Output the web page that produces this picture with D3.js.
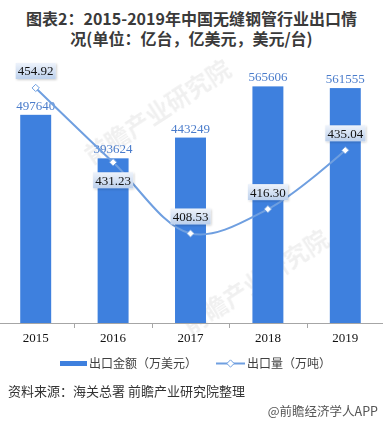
<!DOCTYPE html>
<html>
<head>
<meta charset="utf-8">
<script src="https://cdn.jsdelivr.net/npm/d3@7"></script>
<style>
  body { margin: 0; background: #fff; }
  svg { display: block; }
</style>
</head>
<body>
<script>
// chart values
const years = ["2015", "2016", "2017", "2018", "2019"];
const exportValue = [497640, 393624, 443249, 565606, 561555];   // 出口金额（万美元）
const exportVolume = [454.92, 431.23, 408.53, 416.30, 435.04];  // 出口量（万吨）
const volumeLabelSide = ["top", "bottom", "top", "top", "top"];

const W = 383, H = 425;
const svg = d3.select("body").append("svg").attr("width", W).attr("height", H);

const cjk = "'Noto Sans CJK SC', 'Noto Sans', sans-serif";
const serif = "'Liberation Serif', 'DejaVu Serif', serif";

// gradient + shadow for line labels
const defs = svg.append("defs");
const grad = defs.append("linearGradient").attr("id", "lblGrad")
    .attr("x1", 0).attr("y1", 0).attr("x2", 0).attr("y2", 1);
grad.append("stop").attr("offset", "0%").attr("stop-color", "#eef3fb");
grad.append("stop").attr("offset", "100%").attr("stop-color", "#bcd0ec");
const shadow = defs.append("filter").attr("id", "lblShadow")
    .attr("x", "-20%").attr("y", "-30%").attr("width", "140%").attr("height", "160%");
shadow.append("feDropShadow").attr("dx", 1).attr("dy", 1).attr("stdDeviation", 0.8)
    .attr("flood-color", "#000").attr("flood-opacity", 0.2);

// title
const titleLines = ["图表2：2015-2019年中国无缝钢管行业出口情", "况(单位：亿台，亿美元，美元/台)"];
svg.append("g").selectAll("text")
    .data(titleLines)
    .join("text")
    .attr("x", W / 2)
    .attr("y", (d, i) => 25 + i * 19.5)
    .attr("text-anchor", "middle")
    .attr("font-family", cjk)
    .attr("font-weight", "bold")
    .attr("font-size", 16)
    .attr("fill", "#3a3a3a")
    .text(d => d);

// watermark
const wm = svg.append("g").attr("fill", "#000").attr("opacity", 0.06)
    .attr("font-family", cjk).attr("font-weight", "bold");
wm.append("text").attr("transform", "translate(92,165) rotate(-33)")
    .attr("font-size", 24).text("前瞻产业研究院");
wm.append("text").attr("transform", "translate(190,335) rotate(-33)")
    .attr("font-size", 24).text("前瞻产业研究院");

const baseY = 323, topY = 72;

const x = d3.scaleBand().domain(years).range([-3, 384]).paddingInner(0);
const barW = x.bandwidth() * 0.4;
const cx = d => x(d) + x.bandwidth() / 2;

const yBar = d3.scaleLinear().domain([0, 600000]).range([baseY, topY]);
const yLine = d3.scaleLinear().domain([380, 460]).range([baseY, topY]);

// bars
svg.append("g").selectAll("rect")
    .data(years)
    .join("rect")
    .attr("x", (d) => cx(d) - barW / 2)
    .attr("y", (d, i) => yBar(exportValue[i]))
    .attr("width", barW)
    .attr("height", (d, i) => baseY - yBar(exportValue[i]))
    .attr("fill", "#3e80de");

// bar labels
svg.append("g").selectAll("text")
    .data(years)
    .join("text")
    .attr("x", (d) => cx(d))
    .attr("y", (d, i) => yBar(exportValue[i]) - 5)
    .attr("text-anchor", "middle")
    .attr("font-family", serif)
    .attr("font-size", 13)
    .attr("fill", "#4a7ccb")
    .text((d, i) => exportValue[i]);

// x axis
const axis = d3.axisBottom(x).tickSize(0).tickFormat(d => d);
const ax = svg.append("g").attr("transform", `translate(0,${baseY})`).call(axis);
ax.select(".domain").remove();
ax.append("line").attr("x1", 0).attr("x2", W).attr("y1", 0.5).attr("y2", 0.5)
    .attr("stroke", "#a6a6a6");
ax.selectAll(".sep").data(years.slice(1))
    .join("line")
    .attr("class", "sep")
    .attr("x1", d => Math.round(x(d)) + 0.5).attr("x2", d => Math.round(x(d)) + 0.5)
    .attr("y1", 0).attr("y2", 5)
    .attr("stroke", "#a6a6a6");
ax.selectAll(".tick text")
    .attr("dy", 0)
    .attr("y", 19)
    .attr("font-family", serif)
    .attr("font-size", 13)
    .attr("fill", "#111");

// line
const pts = years.map((d, i) => [cx(d), yLine(exportVolume[i])]);
svg.append("path")
    .attr("d", d3.line().curve(d3.curveCatmullRom.alpha(0.5))(pts))
    .attr("fill", "none")
    .attr("stroke", "#6f9fe0")
    .attr("stroke-width", 2);

const diamond = d3.symbol().type(d3.symbolDiamond2).size(34);
svg.append("g").selectAll("path")
    .data(pts)
    .join("path")
    .attr("transform", p => `translate(${p[0]},${p[1]})`)
    .attr("d", diamond)
    .attr("fill", "#fff")
    .attr("stroke", "#6f9fe0")
    .attr("stroke-width", 1);

// line labels
const lbl = svg.append("g").selectAll("g")
    .data(years)
    .join("g")
    .attr("transform", (d, i) => {
        const off = volumeLabelSide[i] === "top" ? -17 : 18;
        return `translate(${cx(d)},${yLine(exportVolume[i]) + off})`;
    });
lbl.append("rect")
    .attr("x", -20).attr("y", -8).attr("width", 40).attr("height", 16)
    .attr("fill", "url(#lblGrad)")
    .attr("filter", "url(#lblShadow)");
lbl.append("text")
    .attr("text-anchor", "middle")
    .attr("y", 4.5)
    .attr("font-family", serif)
    .attr("font-size", 13)
    .attr("fill", "#111")
    .text((d, i) => exportVolume[i].toFixed(2));

// legend
const leg = svg.append("g").attr("font-family", cjk).attr("font-size", 12).attr("fill", "#404040");
leg.append("rect").attr("x", 60).attr("y", 361).attr("width", 27).attr("height", 5).attr("fill", "#3e80de");
leg.append("text").attr("x", 89).attr("y", 368).text("出口金额（万美元）");
leg.append("line").attr("x1", 216).attr("x2", 245).attr("y1", 363.5).attr("y2", 363.5)
    .attr("stroke", "#6f9fe0").attr("stroke-width", 2);
leg.append("path").attr("transform", "translate(230.5,363.5)").attr("d", diamond)
    .attr("fill", "#fff").attr("stroke", "#6f9fe0");
leg.append("text").attr("x", 247).attr("y", 368).text("出口量（万吨）");

// source
svg.append("text").attr("x", 8).attr("y", 396)
    .attr("font-family", cjk).attr("font-size", 13).attr("fill", "#333")
    .text("资料来源：海关总署 前瞻产业研究院整理");
svg.append("text").attr("x", 378).attr("y", 416).attr("text-anchor", "end")
    .attr("font-family", cjk).attr("font-size", 12.5).attr("fill", "#555")
    .text("@前瞻经济学人APP");
</script>
</body>
</html>
